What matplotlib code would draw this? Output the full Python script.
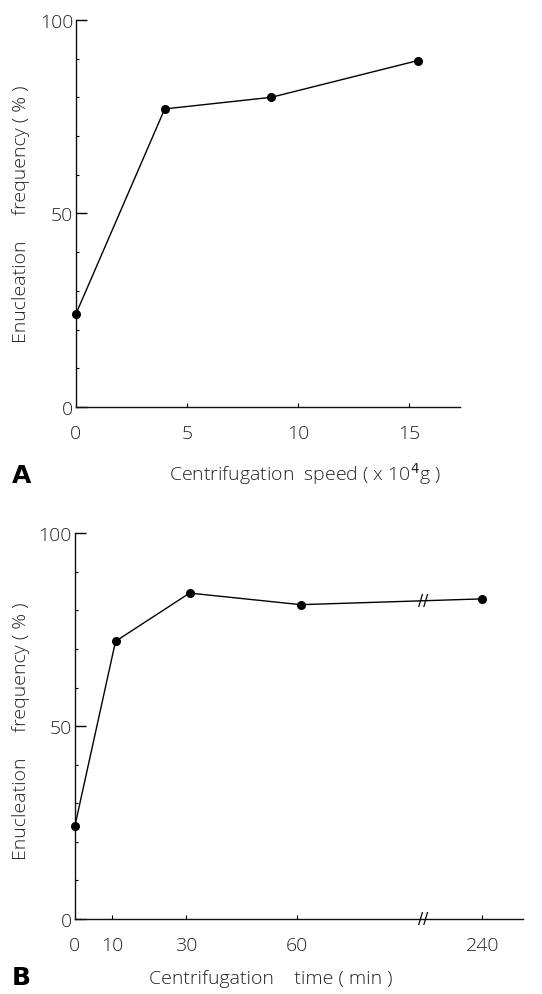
import matplotlib
matplotlib.use("Agg")
import matplotlib.pyplot as plt
from matplotlib.ticker import MultipleLocator

# Panel A: enucleation vs centrifugation speed
speed = [0, 4, 8.8, 15.4]
speed_freq = [24, 77, 80, 89.5]
speed_ticks = [0, 5, 10, 15]

# Panel B: enucleation vs centrifugation time (axis broken between 60 and 240)
time_min = [0, 11, 31, 61, 240]
time_freq = [24, 72, 84.5, 81.5, 83]
time_ticks = [0, 10, 30, 60, 240]
time_tick_labels = ["0", "10", "30", "60", "240"]

BREAK_AT = 94      # display position of the // mark
BREAK_SHIFT = 130  # minutes cut out of the axis after the break

plt.rcParams["font.family"] = ["Open Sans", "DejaVu Sans"]
FS = 14
TXT = "#222222"


def tpos(t):
    return t if t < BREAK_AT else t - BREAK_SHIFT


def style(ax):
    ax.spines["top"].set_visible(False)
    ax.spines["right"].set_visible(False)
    for s in ("left", "bottom"):
        ax.spines[s].set_linewidth(1.0)
        ax.spines[s].set_color("#111111")
    ax.set_ylim(0, 100)
    ax.set_yticks([0, 50, 100])
    ax.set_yticklabels(["0", "50", "100"])
    ax.yaxis.set_minor_locator(MultipleLocator(10))
    ax.tick_params(axis="y", which="major", direction="in", length=8, width=1,
                   pad=2, labelsize=FS, labelcolor=TXT)
    ax.tick_params(axis="y", which="minor", direction="in", length=2.5, width=0.8)
    ax.tick_params(axis="x", which="major", direction="in", length=3, width=0.8,
                   pad=12, labelsize=FS, labelcolor=TXT)
    for lab in ax.get_yticklabels() + ax.get_xticklabels():
        lab.set_fontweight("light")


fig = plt.figure(figsize=(5.42, 9.95), dpi=100)

# ---- A
axA = fig.add_axes([0.140, 0.590, 0.709, 0.389])
axA.plot(speed, speed_freq, color="black", lw=1.0, marker="o", ms=5.5,
         clip_on=False, zorder=3)
axA.set_xlim(0, 17.3)
axA.set_xticks(speed_ticks)
style(axA)
fig.text(0.562, 0.524, "Centrifugation  speed ( x 10$^{4}$g )", ha="center",
         va="center", fontsize=FS, fontweight="light", color=TXT)
fig.text(0.038, 0.785, "Enucleation     frequency ( % )", rotation=90, ha="center",
         va="center", fontsize=FS, fontweight="light", color=TXT)
fig.text(0.022, 0.522, "A", ha="left", va="center", fontsize=18,
         fontweight="bold", family="DejaVu Sans")

# ---- B
axB = fig.add_axes([0.138, 0.0754, 0.827, 0.3876])
axB.plot([tpos(t) for t in time_min], time_freq, color="black", lw=1.0,
         marker="o", ms=5.5, clip_on=False, zorder=3)
axB.set_xlim(0, 121)
axB.set_xticks([tpos(t) for t in time_ticks])
axB.set_xticklabels(time_tick_labels)
style(axB)

# break marks on the axis and on the line
x60, x240 = tpos(60), tpos(240)
y_break = time_freq[3] + (time_freq[4] - time_freq[3]) * (BREAK_AT - x60) / (x240 - x60)
for yb in (0, y_break):
    axB.text(BREAK_AT, yb, "//", ha="center", va="center", fontsize=11,
             color="black", family="DejaVu Sans", clip_on=False, zorder=4)

fig.text(0.50, 0.016, "Centrifugation    time ( min )", ha="center", va="center",
         fontsize=FS, fontweight="light", color=TXT)
fig.text(0.038, 0.265, "Enucleation     frequency ( % )", rotation=90, ha="center",
         va="center", fontsize=FS, fontweight="light", color=TXT)
fig.text(0.022, 0.017, "B", ha="left", va="center", fontsize=18,
         fontweight="bold", family="DejaVu Sans")

fig.savefig("out.png", dpi=100)
